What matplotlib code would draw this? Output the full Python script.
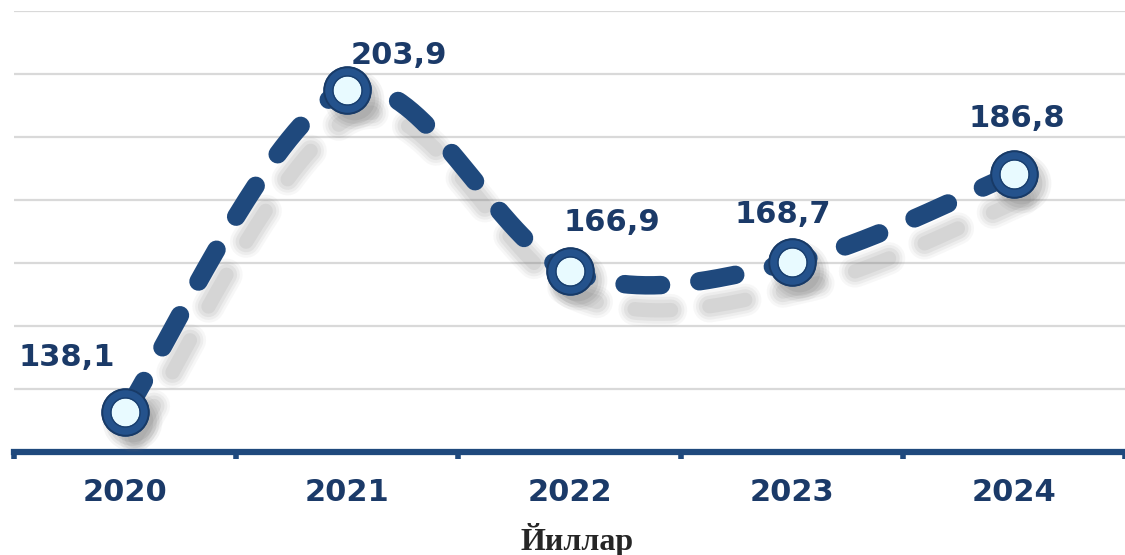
import numpy as np
import matplotlib
matplotlib.use('Agg')
import matplotlib.pyplot as plt
import matplotlib.transforms as mtransforms

years = ['2020', '2021', '2022', '2023', '2024']
values = [138.1, 203.9, 166.9, 168.7, 186.8]
value_labels = ['138,1', '203,9', '166,9', '168,7', '186,8']
axis_title = 'Йиллар'

LINE = '#1f497d'
TEXT = '#1b3a68'
plt.rcParams['lines.scale_dashes'] = False

fig = plt.figure(figsize=(11.25, 5.55), dpi=100)
ax = fig.add_axes([14 / 1125, 103 / 555, 1111 / 1125, 441 / 555])

x = np.arange(len(years), dtype=float)
y = np.array(values)


def smooth(xs, ys, n=80):
    px = np.concatenate([[xs[0]], xs, [xs[-1]]])
    py = np.concatenate([[ys[0]], ys, [ys[-1]]])
    outx, outy = [], []
    t = np.linspace(0, 1, n)
    for i in range(len(xs) - 1):
        p0 = np.array([px[i], py[i]])
        p1 = np.array([px[i + 1], py[i + 1]])
        p2 = np.array([px[i + 2], py[i + 2]])
        p3 = np.array([px[i + 3], py[i + 3]])
        c1 = p1 + (p2 - p0) / 6
        c2 = p2 - (p3 - p1) / 6
        b = ((1 - t) ** 3)[:, None] * p1 + (3 * (1 - t) ** 2 * t)[:, None] * c1 \
            + (3 * (1 - t) * t ** 2)[:, None] * c2 + (t ** 3)[:, None] * p2
        if i > 0:
            b = b[1:]
        outx.append(b[:, 0])
        outy.append(b[:, 1])
    return np.concatenate(outx), np.concatenate(outy)


sx, sy = smooth(x, y)

lw = 13.3
dash = (0, (26.3, 27.7))
shadow_tr = ax.transData + mtransforms.ScaledTranslation(0.10, -0.25, fig.dpi_scale_trans)
mshadow_tr = ax.transData + mtransforms.ScaledTranslation(0.07, -0.09, fig.dpi_scale_trans)
for extra, a in [(10, 0.05), (6, 0.07), (2, 0.09), (-3, 0.1)]:
    ax.plot(sx, sy, color='#6f6f6f', lw=lw + extra, alpha=a, linestyle=dash,
            dash_capstyle='round', transform=shadow_tr, zorder=2)
    ax.plot(x, y, linestyle='none', marker='o', ms=33 + extra,
            markerfacecolor='#6f6f6f', markeredgewidth=0, alpha=a * 1.4,
            transform=mshadow_tr, zorder=2)

ax.plot(sx, sy, color=LINE, lw=lw, linestyle=dash, dash_capstyle='round', zorder=3)
ax.plot(x, y, linestyle='none', marker='o', ms=27.4, markerfacecolor='#e8faff',
        markeredgecolor='#24528c', markeredgewidth=7.2, zorder=4)
ax.plot(x, y, linestyle='none', marker='o', ms=33.5, markerfacecolor='none',
        markeredgecolor='#183a66', markeredgewidth=1.4, zorder=5)
ax.plot(x, y, linestyle='none', marker='o', ms=21.0, markerfacecolor='none',
        markeredgecolor='#1a3f6e', markeredgewidth=1.0, zorder=5)

offsets_px = [(-58, 55), (52, 34), (42, 49), (-9, 48), (3, 55)]
for xi, yi, lab, (dx, dy) in zip(x, y, value_labels, offsets_px):
    ax.annotate(lab, (xi, yi), xytext=(dx * 0.72, dy * 0.72), textcoords='offset points',
                ha='center', va='center', fontsize=22, fontweight='bold', color=TEXT, zorder=6)

ymin, ymax = 130, 220
ax.set_ylim(ymin, ymax)
ax.set_xlim(-0.5, -0.5 + 1111 / 224)
ax.set_yticks(np.linspace(ymin, ymax, 8)[1:])
ax.yaxis.grid(True, color='#d9d9d9', lw=1.6)
ax.set_axisbelow(True)
ax.tick_params(axis='y', length=0, labelleft=False)

ax.set_xticks(x)
ax.set_xticklabels(years, fontsize=22, fontweight='bold', color=TEXT)
ax.tick_params(axis='x', which='major', length=0, pad=19)
ax.set_xticks(np.arange(-0.5, len(years) + 0.5, 1), minor=True)
ax.tick_params(axis='x', which='minor', length=5, width=4, color=LINE, direction='out')

for s in ['top', 'left', 'right']:
    ax.spines[s].set_visible(False)
ax.spines['bottom'].set_color(LINE)
ax.spines['bottom'].set_linewidth(4.5)
ax.spines['bottom'].set_zorder(1)

fig.text(577 / 1125, 5 / 555, axis_title, ha='center', va='baseline',
         fontsize=23, fontweight='bold', family='Liberation Serif', color='#262626')

fig.savefig('out.png', dpi=100)
